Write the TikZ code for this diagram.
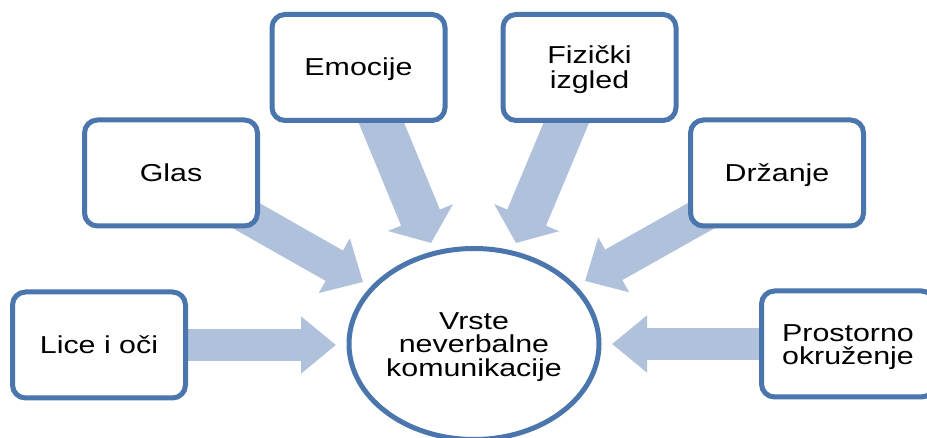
\documentclass[tikz,border=0pt]{standalone}
\usepackage{fontspec}
\setmainfont[FakeStretch=1.24]{Liberation Sans}
\usetikzlibrary{arrows.meta,backgrounds,shapes.geometric}
\definecolor{edgeblue}{HTML}{4A76AD}
\definecolor{arrowblue}{HTML}{B0C1DC}
\newcommand{\lowerfirst}{\rule{0pt}{23pt}}
\tikzset{
  x=1pt,y=-1pt,
  topic/.style={draw=edgeblue,line width=5pt,fill=white,rounded corners=13pt,minimum width=173pt,minimum height=106pt,align=center,font=\fontsize{24.5}{25}\selectfont,inner sep=0pt},
  oneline/.style={topic,text height=18pt,text depth=1.5pt},
  hub/.style={draw=edgeblue,line width=5pt,fill=white,ellipse,minimum width=250pt,minimum height=191pt,align=center,font=\fontsize{24.5}{23.7}\selectfont,inner sep=0pt},
  flow/.style n args={3}{draw=arrowblue,line width=#1,-{Triangle[length=#3,width=#2]}},
}
\begin{document}
\begin{tikzpicture}
\useasboundingbox (0,0) rectangle (927,438);
\clip (0,0) rectangle (927,438);
\node[oneline] (lice) at (99,345) {Lice i oči};
\node[oneline] (glas) at (171,173) {Glas};
\node[oneline] (emo) at (358.5,67.5) {Emocije};
\node[topic] (fiz) at (589.5,67.5) {\lowerfirst Fizički\\izgled};
\node[oneline] (drz) at (777,173) {Držanje};
\node[topic,font=\fontsize{24.5}{23.3}\selectfont] (pro) at (848,344) {\lowerfirst Prostorno\\okruženje};
\node[hub] (hub) at (474,344) {\lowerfirst Vrste\\neverbalne\\komunikacije};
\coordinate (tlice) at (336,345);
\coordinate (tglas) at (363,282);
\coordinate (temo) at (431,243);
\coordinate (tfiz) at (516,243);
\coordinate (tdrz) at (585,281);
\coordinate (tpro) at (612,344);
\begin{scope}[on background layer]
\draw[flow={32pt}{55pt}{35pt}] (lice.center) -- (tlice);
\draw[flow={35pt}{61pt}{33pt}] (glas.center) -- (tglas);
\draw[flow={42pt}{69pt}{27.5pt}] (emo.center) -- (temo);
\draw[flow={42pt}{69pt}{27.5pt}] (fiz.center) -- (tfiz);
\draw[flow={35pt}{61pt}{33pt}] (drz.center) -- (tdrz);
\draw[flow={32pt}{55pt}{35pt}] (pro.center) -- (tpro);
\end{scope}
\end{tikzpicture}
\end{document}
